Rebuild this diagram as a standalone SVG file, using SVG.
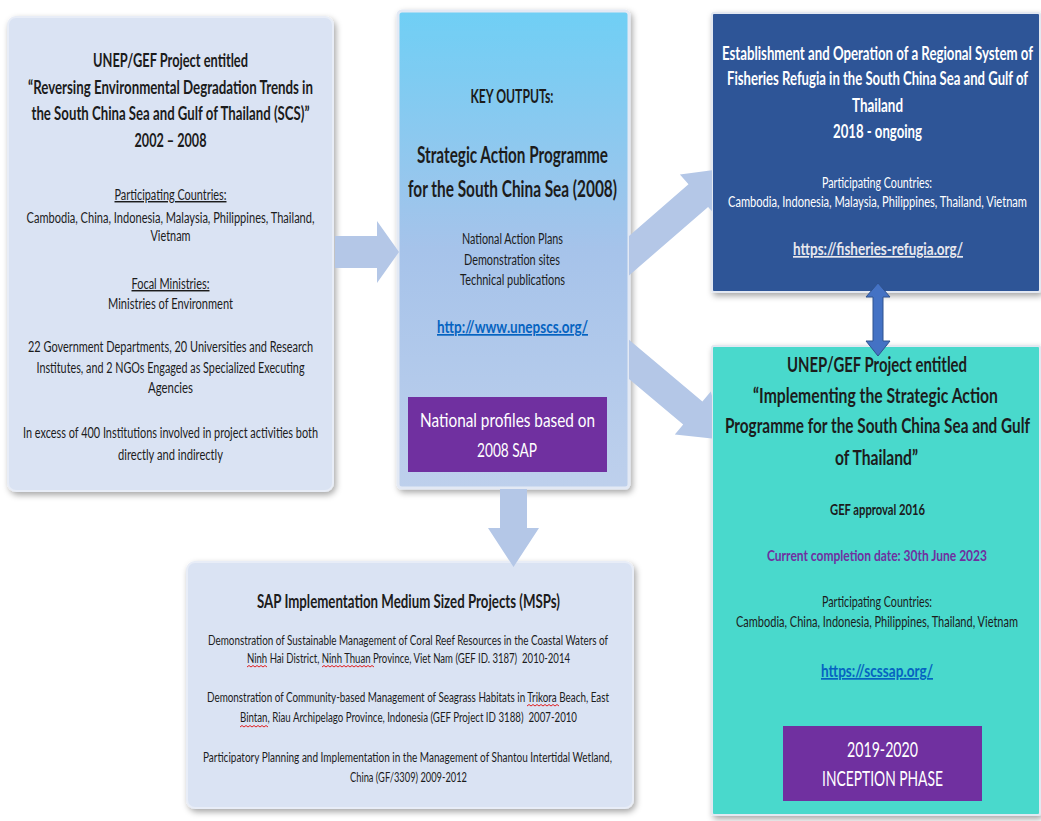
<svg xmlns="http://www.w3.org/2000/svg" width="1041" height="821" viewBox="0 0 1041 821">
<style>
text{font-family:Lato,"Liberation Sans",sans-serif;text-anchor:middle;}
.b{font-weight:bold;}
.t18{font-size:18.5px;}
.r{font-size:14.5px;}
.s{font-size:13.5px;}
.dk{fill:#1c1c1c;}
.wh{fill:#ffffff;}
.link{fill:#0563C1;font-weight:bold;text-decoration:underline;}
.arrow{fill:#B4C7E7;}
.dbl{fill:#4472C4;stroke:#2F528F;stroke-width:1;}
.sq{fill:none;stroke:#e02020;stroke-width:1;}
</style>
<defs>
<filter id="sh" x="-10%" y="-10%" width="120%" height="120%">
<feDropShadow dx="2" dy="3" stdDeviation="3" flood-color="#000" flood-opacity="0.35"/>
</filter>
<linearGradient id="mid" x1="0" y1="0" x2="0" y2="1">
<stop offset="0" stop-color="#6FCFF5"/>
<stop offset="0.5" stop-color="#A6C3EA"/>
<stop offset="1" stop-color="#BED0EC"/>
</linearGradient>
<clipPath id="gap"><rect x="629" y="0" width="83" height="821"/></clipPath>
</defs>
<rect width="1041" height="821" fill="#ffffff"/>

<g id="node-scs-project">
<rect x="8" y="17" width="325" height="474" rx="8" fill="#DAE3F3" stroke="#e8edf7" stroke-width="2" filter="url(#sh)"/>
<text x="170.5" y="67" class="b t18 dk" textLength="155" lengthAdjust="spacingAndGlyphs">UNEP/GEF Project entitled</text>
<text x="170.5" y="94" class="b t18 dk" textLength="285" lengthAdjust="spacingAndGlyphs">“Reversing Environmental Degradation Trends in</text>
<text x="170.5" y="120" class="b t18 dk" textLength="278" lengthAdjust="spacingAndGlyphs">the South China Sea and Gulf of Thailand (SCS)”</text>
<text x="170.5" y="147" class="b t18 dk" textLength="72" lengthAdjust="spacingAndGlyphs">2002 – 2008</text>
<text x="170.5" y="200" class="r dk" text-decoration="underline" textLength="112" lengthAdjust="spacingAndGlyphs">Participating Countries:</text>
<text x="170.5" y="223" class="r dk" textLength="288" lengthAdjust="spacingAndGlyphs">Cambodia, China, Indonesia, Malaysia, Philippines, Thailand,</text>
<text x="170.5" y="241" class="r dk" textLength="40" lengthAdjust="spacingAndGlyphs">Vietnam</text>
<text x="170.5" y="289" class="r dk" text-decoration="underline" textLength="78" lengthAdjust="spacingAndGlyphs">Focal Ministries:</text>
<text x="170.5" y="309" class="r dk" textLength="125" lengthAdjust="spacingAndGlyphs">Ministries of Environment</text>
<text x="170.5" y="352" class="r dk" textLength="285" lengthAdjust="spacingAndGlyphs">22 Government Departments, 20 Universities and Research</text>
<text x="170.5" y="373" class="r dk" textLength="268" lengthAdjust="spacingAndGlyphs">Institutes, and 2 NGOs Engaged as Specialized Executing</text>
<text x="170.5" y="393" class="r dk" textLength="45" lengthAdjust="spacingAndGlyphs">Agencies</text>
<text x="170.5" y="438" class="r dk" textLength="295" lengthAdjust="spacingAndGlyphs">In excess of 400 Institutions involved in project activities both</text>
<text x="170.5" y="460" class="r dk" textLength="105" lengthAdjust="spacingAndGlyphs">directly and indirectly</text>
</g>

<g id="node-msps">
<rect x="187" y="562" width="446" height="246" rx="8" fill="#DAE3F3" stroke="#e8edf7" stroke-width="2" filter="url(#sh)"/>
<text x="408.5" y="608" class="b dk" style="font-size:18.5px" textLength="303" lengthAdjust="spacingAndGlyphs">SAP Implementation Medium Sized Projects (MSPs)</text>
<text x="408" y="645" class="s dk" textLength="400" lengthAdjust="spacingAndGlyphs">Demonstration of Sustainable Management of Coral Reef Resources in the Coastal Waters of</text>
<text x="408.5" y="663" class="s dk" textLength="323" lengthAdjust="spacingAndGlyphs">Ninh Hai District, Ninh Thuan Province, Viet Nam (GEF ID. 3187)&#160; 2010-2014</text>
<text x="408" y="702" class="s dk" textLength="402" lengthAdjust="spacingAndGlyphs">Demonstration of Community-based Management of Seagrass Habitats in Trikora Beach, East</text>
<text x="408.5" y="722" class="s dk" textLength="337" lengthAdjust="spacingAndGlyphs">Bintan, Riau Archipelago Province, Indonesia (GEF Project ID 3188)&#160; 2007-2010</text>
<text x="407.5" y="762" class="s dk" textLength="409" lengthAdjust="spacingAndGlyphs">Participatory Planning and Implementation in the Management of Shantou Intertidal Wetland,</text>
<text x="408.5" y="782" class="s dk" textLength="117" lengthAdjust="spacingAndGlyphs">China (GF/3309) 2009-2012</text>
<path class="sq" d="M247,667 l2,-1.5 l2,1.5 l2,-1.5 l2,1.5 l2,-1.5 l2,1.5 l2,-1.5 l2,1.5 l2,-1.5 l2,1.5"/>
<path class="sq" d="M322,667 l2,-1.5 l2,1.5 l2,-1.5 l2,1.5 l2,-1.5 l2,1.5 l2,-1.5 l2,1.5 l2,-1.5 l2,1.5 l2,-1.5 l2,1.5 l2,-1.5 l2,1.5 l2,-1.5 l2,1.5 l2,-1.5 l2,1.5 l2,-1.5 l2,1.5 l2,-1.5 l2,1.5 l2,-1.5 l2,1.5 l2,-1.5 l2,1.5"/>
<path class="sq" d="M527,706 l2,-1.5 l2,1.5 l2,-1.5 l2,1.5 l2,-1.5 l2,1.5 l2,-1.5 l2,1.5 l2,-1.5 l2,1.5 l2,-1.5 l2,1.5 l2,-1.5 l2,1.5 l2,-1.5 l2,1.5"/>
<path class="sq" d="M240,727 l2,-1.5 l2,1.5 l2,-1.5 l2,1.5 l2,-1.5 l2,1.5 l2,-1.5 l2,1.5 l2,-1.5 l2,1.5 l2,-1.5 l2,1.5 l2,-1.5 l2,1.5"/>
</g>

<g id="node-key-outputs">
<rect x="398" y="11" width="231" height="477" rx="4" fill="url(#mid)" stroke="#e3e9f4" stroke-width="3" filter="url(#sh)"/>
<text x="512" y="103" class="b dk" style="font-size:18px" textLength="83" lengthAdjust="spacingAndGlyphs">KEY OUTPUTs:</text>
<text x="512.5" y="163" class="b dk" style="font-size:23px" textLength="191" lengthAdjust="spacingAndGlyphs">Strategic Action Programme</text>
<text x="512.5" y="197" class="b dk" style="font-size:23px" textLength="209" lengthAdjust="spacingAndGlyphs">for the South China Sea (2008)</text>
<text x="512.5" y="244" class="r dk" textLength="101" lengthAdjust="spacingAndGlyphs">National Action Plans</text>
<text x="512" y="265" class="r dk" textLength="96" lengthAdjust="spacingAndGlyphs">Demonstration sites</text>
<text x="512.5" y="285" class="r dk" textLength="105" lengthAdjust="spacingAndGlyphs">Technical publications</text>
<text x="512.5" y="333" class="link" style="font-size:17px" textLength="151" lengthAdjust="spacingAndGlyphs">http://www.unepscs.org/</text>
<rect x="408" y="397" width="199" height="75" fill="#7030A0"/>
<text x="507.5" y="427" class="wh" style="font-size:20px" textLength="175" lengthAdjust="spacingAndGlyphs">National profiles based on</text>
<text x="507" y="457" class="wh" style="font-size:20px" textLength="60" lengthAdjust="spacingAndGlyphs">2008 SAP</text>
</g>

<g id="node-fisheries-refugia">
<rect x="712" y="13" width="328" height="279" rx="2" fill="#2F5597" stroke="#e3e8f1" stroke-width="2" filter="url(#sh)"/>
<text x="877.5" y="60" class="b wh" style="font-size:18px" textLength="311" lengthAdjust="spacingAndGlyphs">Establishment and Operation of a Regional System of</text>
<text x="877.5" y="85" class="b wh" style="font-size:18px" textLength="301" lengthAdjust="spacingAndGlyphs">Fisheries Refugia in the South China Sea and Gulf of</text>
<text x="877.5" y="112" class="b wh" style="font-size:18px" textLength="51" lengthAdjust="spacingAndGlyphs">Thailand</text>
<text x="877.5" y="138" class="b wh" style="font-size:18px" textLength="89" lengthAdjust="spacingAndGlyphs">2018 - ongoing</text>
<text x="877" y="188" class="wh" style="font-size:14.5px" textLength="110" lengthAdjust="spacingAndGlyphs">Participating Countries:</text>
<text x="877.5" y="207" class="wh" style="font-size:14.5px" textLength="299" lengthAdjust="spacingAndGlyphs">Cambodia, Indonesia, Malaysia, Philippines, Thailand, Vietnam</text>
<text x="878" y="255" class="b" style="font-size:17px;fill:#e8e8ee;text-decoration:underline" textLength="170" lengthAdjust="spacingAndGlyphs">https://fisheries-refugia.org/</text>
</g>

<g id="node-scs-sap">
<rect x="712" y="346" width="328" height="469" rx="2" fill="#48D9CC" stroke="#e3e8f1" stroke-width="2" filter="url(#sh)"/>
<text x="877" y="372" class="b dk" style="font-size:20.5px" textLength="180" lengthAdjust="spacingAndGlyphs">UNEP/GEF Project entitled</text>
<text x="875.5" y="403" class="b dk" style="font-size:20.5px" textLength="245" lengthAdjust="spacingAndGlyphs">“Implementing the Strategic Action</text>
<text x="877.5" y="433" class="b dk" style="font-size:20.5px" textLength="305" lengthAdjust="spacingAndGlyphs">Programme for the South China Sea and Gulf</text>
<text x="876.5" y="465" class="b dk" style="font-size:20.5px" textLength="83" lengthAdjust="spacingAndGlyphs">of Thailand”</text>
<text x="877.5" y="515" class="b dk" style="font-size:16px" textLength="95" lengthAdjust="spacingAndGlyphs">GEF approval 2016</text>
<text x="877" y="561" class="b" style="font-size:16px;fill:#7030A0" textLength="220" lengthAdjust="spacingAndGlyphs">Current completion date: 30th June 2023</text>
<text x="877" y="607" class="dk" style="font-size:15px" textLength="110" lengthAdjust="spacingAndGlyphs">Participating Countries:</text>
<text x="877" y="627" class="dk" style="font-size:15px" textLength="282" lengthAdjust="spacingAndGlyphs">Cambodia, China, Indonesia, Philippines, Thailand, Vietnam</text>
<text x="877" y="677" class="link" style="font-size:17px" textLength="112" lengthAdjust="spacingAndGlyphs">https://scssap.org/</text>
<rect x="783" y="726" width="199" height="75" fill="#7030A0"/>
<text x="882.5" y="757" class="wh" style="font-size:21px" textLength="71" lengthAdjust="spacingAndGlyphs">2019-2020</text>
<text x="882.5" y="786" class="wh" style="font-size:21px" textLength="121" lengthAdjust="spacingAndGlyphs">INCEPTION PHASE</text>
</g>

<g id="connectors">
<polygon class="arrow" points="335,236 377,236 377,221 399,252 377,283 377,268 335,268"/>
<polygon class="arrow" points="500,489 527,489 527,528 539,528 513.5,567 488,528 500,528"/>
<polygon class="arrow" clip-path="url(#gap)" points="591.8,268.2 688.5,184.3 679.9,174.5 730,168 716.7,216.7 708.1,206.9 611.4,290.8"/>
<polygon class="arrow" clip-path="url(#gap)" points="612,325.6 702.4,401.5 710.8,391.6 725,440 674.8,434.4 683.2,424.5 592.8,348.6"/>
<polygon class="dbl" points="878,283 890,297 883,297 883,341 890,341 878,356 866,341 873,341 873,297 866,297"/>
</g>
</svg>
